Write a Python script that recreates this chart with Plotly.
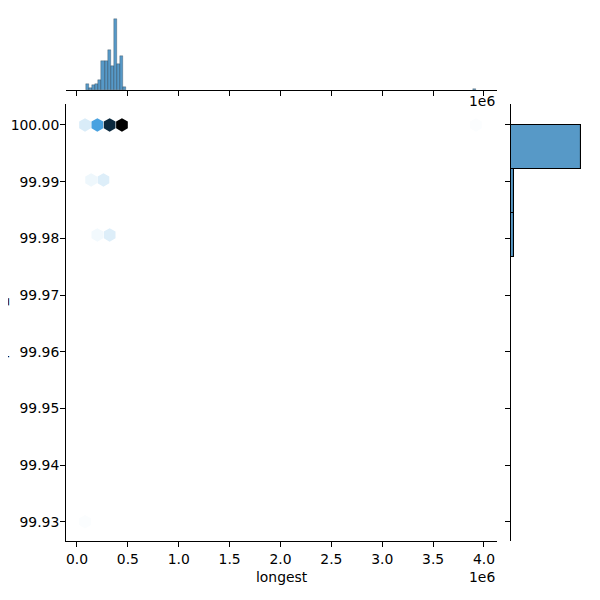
import colorsys
import numpy as np
import plotly.graph_objects as go

# ---------------- data ----------------
# joint hexbin cells (centre of each hexagon, number of points)
hex_longest = [3.921e6, 0.079e6, 0.139e6, 0.200e6, 0.260e6, 0.321e6, 0.200e6, 0.321e6, 0.079e6, 0.442e6]
hex_ident = [100.00, 99.930, 99.9903, 99.9806, 99.9903, 99.9806, 100.00, 100.00, 100.00, 100.00]
hex_count = [1, 1, 4, 3, 8, 8, 44, 90, 9, 105]

# marginal histogram of "longest"
longest_bin_start = 0.088e6
longest_bin_width = 0.030452e6
longest_counts = [5, 2, 4, 5, 9, 25, 25, 35, 21, 62, 23, 30, 3]
longest_outlier_bin = 126 - 1   # index of the last bin (≈3.9e6)
longest_outlier_count = 1

# marginal histogram of identity
ident_bin_start = 99.93
ident_bin_width = 0.07 / 9
ident_counts = [1, 0, 0, 0, 0, 0, 11, 12, 252]

x_tickvals = [0, 0.5e6, 1.0e6, 1.5e6, 2.0e6, 2.5e6, 3.0e6, 3.5e6, 4.0e6]
x_ticktext = ["0.0", "0.5", "1.0", "1.5", "2.0", "2.5", "3.0", "3.5", "4.0"]
y_tickvals = [100.00, 99.99, 99.98, 99.97, 99.96, 99.95, 99.94, 99.93]
y_ticktext = ["100.00", "99.99", "99.98", "99.97", "99.96", "99.95", "99.94", "99.93"]

x_label = "longest"
y_label = "percent_id"
offset_label = "1e6"

# ---------------- style ----------------
FONT = "DejaVu Sans"
FS = 13.9
base_rgb = (31 / 255, 119 / 255, 180 / 255)
h, l, s = colorsys.rgb_to_hls(*base_rgb)
stops = []
for i, lv in enumerate(np.linspace(1, 0, 12)):
    r, g, b = colorsys.hls_to_rgb(h, lv, s)
    stops.append([i / 11, f"rgb({r*255:.0f},{g*255:.0f},{b*255:.0f})"])

bar_fill = "rgba(31,119,180,0.75)"

# page body has an 8px margin: the figure occupies window pixels 8..600
OFF = 8.0
FW = 600.0 - OFF


def px_x(px):
    return (px - OFF) / FW


def px_y(py):
    return (600.0 - py) / FW


fig = go.Figure()

# hexbin
order = np.argsort(hex_count)
fig.add_trace(go.Scatter(
    x=[hex_longest[i] for i in order], y=[hex_ident[i] for i in order],
    mode="markers", xaxis="x", yaxis="y",
    marker=dict(symbol="hexagon", size=13.5, color=[hex_count[i] for i in order],
                colorscale=stops, cmin=0, cmax=max(hex_count), line=dict(width=0)),
    hoverinfo="skip", showlegend=False))

# top marginal histogram
lx = [longest_bin_start + (i + 0.5) * longest_bin_width for i in range(len(longest_counts))]
lx.append(longest_bin_start + (longest_outlier_bin + 0.5) * longest_bin_width)
ly = longest_counts + [longest_outlier_count]
fig.add_trace(go.Bar(x=lx, y=ly, width=longest_bin_width, xaxis="x2", yaxis="y2",
                     marker=dict(color=bar_fill, line=dict(color="rgba(0,0,0,0.45)", width=0.5)),
                     showlegend=False, hoverinfo="skip"))

# right marginal histogram
iy = [ident_bin_start + (i + 0.5) * ident_bin_width for i in range(len(ident_counts))]
fig.add_trace(go.Bar(y=iy, x=ident_counts, width=ident_bin_width, orientation="h",
                     xaxis="x3", yaxis="y3",
                     marker=dict(color=bar_fill, line=dict(color="black", width=1.1)),
                     showlegend=False, hoverinfo="skip"))

xdom = [px_x(66), px_x(497)]
ydom = [px_y(541), px_y(104)]
top_dom = [px_y(90), min(1.0, px_y(2.6))]
right_dom = [px_x(511), min(1.0, px_x(598.4))]
xrange_ = [-0.108e6, 4.128e6]
yrange_ = [99.9266, 100.0037]
top_max = 76.3 * (top_dom[1] - top_dom[0]) / (px_y(2.6) - px_y(90))
right_max = 314.6 * (right_dom[1] - right_dom[0]) / (px_x(598.4) - px_x(511))

axis_common = dict(showgrid=False, zeroline=False, linecolor="black", linewidth=1.1,
                   ticks="outside", ticklen=4.9, tickwidth=1.1, tickcolor="black",
                   tickfont=dict(family=FONT, size=FS, color="black"), automargin=False)

fig.update_layout(
    width=int(FW), height=int(FW), margin=dict(l=0, r=0, t=0, b=0),
    paper_bgcolor="white", plot_bgcolor="white", bargap=0,
    font=dict(family=FONT, size=FS, color="black"),
    xaxis=dict(domain=xdom, anchor="y", range=xrange_, tickvals=x_tickvals,
               ticktext=x_ticktext, showline=True, **axis_common),
    yaxis=dict(domain=ydom, anchor="x", range=yrange_, tickvals=y_tickvals,
               ticktext=y_ticktext, showline=True, ticklabelstandoff=-2, **axis_common),
    xaxis2=dict(domain=xdom, anchor="y2", range=xrange_, tickvals=x_tickvals,
                showticklabels=False, showline=True, **axis_common),
    yaxis2=dict(domain=top_dom, anchor="x2", range=[0, top_max], visible=False),
    xaxis3=dict(domain=right_dom, anchor="y3", range=[0, right_max], visible=False),
    yaxis3=dict(domain=ydom, anchor="x3", range=yrange_, tickvals=y_tickvals,
                showticklabels=False, showline=True, **axis_common),
)

ann_font = dict(family=FONT, size=FS, color="black")
fig.add_annotation(text=x_label, xref="paper", yref="paper", x=(xdom[0] + xdom[1]) / 2,
                   y=px_y(577), xanchor="center", yanchor="middle",
                   showarrow=False, font=ann_font)
fig.add_annotation(text=offset_label, xref="paper", yref="paper", x=xdom[1],
                   y=px_y(577), xanchor="right", yanchor="middle",
                   showarrow=False, font=ann_font)
fig.add_annotation(text=offset_label, xref="paper", yref="paper", x=xdom[1],
                   y=px_y(101), xanchor="right", yanchor="middle",
                   showarrow=False, font=ann_font)
fig.add_annotation(text=y_label, xref="paper", yref="paper", x=0, xshift=2,
                   y=(ydom[0] + ydom[1]) / 2, xanchor="right", yanchor="middle",
                   textangle=-90, showarrow=False, font=ann_font)

fig.write_html("out.html")
